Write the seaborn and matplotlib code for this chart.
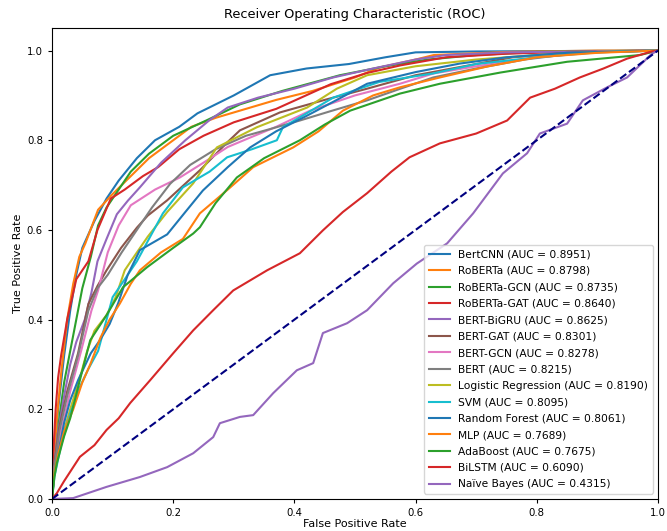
import numpy as np
import pandas as pd
import matplotlib
matplotlib.use("Agg")
import matplotlib.pyplot as plt
import seaborn as sns

models = ["BertCNN", "RoBERTa", "RoBERTa-GCN", "RoBERTa-GAT", "BERT-BiGRU", "BERT-GAT",
          "BERT-GCN", "BERT", "Logistic Regression", "SVM", "Random Forest", "MLP",
          "AdaBoost", "BiLSTM", "Naïve Bayes"]
aucs = [0.8951, 0.8798, 0.8735, 0.8640, 0.8625, 0.8301, 0.8278, 0.8215, 0.8190,
        0.8095, 0.8061, 0.7689, 0.7675, 0.6090, 0.4315]

bertcnn_fpr = [0, 0.003, 0.01, 0.02, 0.03, 0.04, 0.05, 0.07, 0.09, 0.11, 0.14, 0.17, 0.21, 0.24, 0.3, 0.36, 0.42, 0.49, 0.55, 0.6, 0.7, 1]
bertcnn_tpr = [0, 0.1, 0.2, 0.32, 0.42, 0.5, 0.56, 0.62, 0.67, 0.71, 0.76, 0.8, 0.83, 0.86, 0.9, 0.945, 0.96, 0.97, 0.985, 0.996, 0.998, 1]

roberta_fpr = [0, 0.003, 0.008, 0.015, 0.025, 0.035, 0.045, 0.055, 0.076, 0.1, 0.13, 0.16, 0.2, 0.23, 0.27, 0.31, 0.37, 0.43, 0.5, 0.54, 0.6, 0.63, 0.75, 0.9, 1]
roberta_tpr = [0, 0.08, 0.18, 0.28, 0.4, 0.48, 0.54, 0.57, 0.645, 0.68, 0.72, 0.76, 0.8, 0.83, 0.85, 0.866, 0.89, 0.91, 0.94, 0.962, 0.98, 0.99, 0.997, 1, 1]

rgcn_fpr = [0, 0.005, 0.012, 0.02, 0.03, 0.04, 0.05, 0.064, 0.076, 0.09, 0.11, 0.13, 0.16, 0.2, 0.256, 0.31, 0.38, 0.475, 0.55, 0.62, 0.7, 0.8, 1]
rgcn_tpr = [0, 0.08, 0.18, 0.26, 0.33, 0.4, 0.47, 0.54, 0.61, 0.65, 0.69, 0.73, 0.77, 0.81, 0.845, 0.88, 0.91, 0.945, 0.965, 0.98, 0.99, 0.997, 1]

rgat_fpr = [0, 0.002, 0.006, 0.01, 0.015, 0.025, 0.04, 0.06, 0.075, 0.097, 0.12, 0.15, 0.175, 0.21, 0.25, 0.3, 0.37, 0.46, 0.52, 0.575, 0.65, 0.75, 0.85, 1]
rgat_tpr = [0, 0.1, 0.2, 0.27, 0.32, 0.4, 0.49, 0.53, 0.6, 0.67, 0.69, 0.72, 0.74, 0.78, 0.81, 0.84, 0.87, 0.925, 0.95, 0.967, 0.985, 0.993, 0.997, 1]

bigru_fpr = [0, 0.003, 0.01, 0.02, 0.03, 0.04, 0.054, 0.065, 0.075, 0.09, 0.107, 0.125, 0.145, 0.18, 0.22, 0.26, 0.29, 0.34, 0.4, 0.464, 0.53, 0.6, 0.65, 0.75, 1]
bigru_tpr = [0, 0.07, 0.15, 0.23, 0.3, 0.35, 0.4, 0.46, 0.53, 0.58, 0.635, 0.665, 0.695, 0.75, 0.8, 0.845, 0.873, 0.895, 0.915, 0.94, 0.96, 0.98, 0.99, 0.996, 1]

bgat_fpr = [0, 0.004, 0.012, 0.025, 0.043, 0.06, 0.075, 0.09, 0.114, 0.14, 0.158, 0.19, 0.244, 0.289, 0.31, 0.376, 0.45, 0.52, 0.6, 0.68, 0.76, 0.85, 1]
bgat_tpr = [0, 0.08, 0.16, 0.24, 0.325, 0.435, 0.475, 0.51, 0.56, 0.605, 0.632, 0.666, 0.733, 0.795, 0.822, 0.862, 0.89, 0.915, 0.945, 0.965, 0.985, 0.995, 1]

bgcn_fpr = [0, 0.004, 0.015, 0.03, 0.048, 0.065, 0.076, 0.092, 0.11, 0.13, 0.17, 0.211, 0.25, 0.29, 0.327, 0.37, 0.426, 0.5, 0.574, 0.63, 0.7, 0.8, 0.9, 1]
bgcn_tpr = [0, 0.07, 0.15, 0.24, 0.33, 0.42, 0.465, 0.55, 0.61, 0.655, 0.69, 0.717, 0.75, 0.785, 0.806, 0.83, 0.866, 0.9, 0.926, 0.949, 0.965, 0.985, 0.997, 1]

bert_fpr = [0, 0.004, 0.012, 0.025, 0.043, 0.06, 0.075, 0.092, 0.115, 0.14, 0.165, 0.195, 0.228, 0.27, 0.32, 0.36, 0.409, 0.46, 0.52, 0.575, 0.629, 0.7, 0.78, 0.87, 1]
bert_tpr = [0, 0.07, 0.15, 0.23, 0.32, 0.42, 0.47, 0.5, 0.55, 0.6, 0.65, 0.703, 0.745, 0.78, 0.81, 0.825, 0.844, 0.865, 0.889, 0.915, 0.94, 0.96, 0.98, 0.995, 1]

lr_fpr = [0, 0.004, 0.015, 0.03, 0.048, 0.058, 0.07, 0.09, 0.105, 0.12, 0.13, 0.158, 0.19, 0.233, 0.272, 0.338, 0.421, 0.47, 0.52, 0.6, 0.7, 0.8, 0.9, 1]
lr_tpr = [0, 0.06, 0.13, 0.2, 0.28, 0.33, 0.375, 0.41, 0.45, 0.51, 0.53, 0.585, 0.64, 0.704, 0.784, 0.829, 0.873, 0.915, 0.945, 0.965, 0.98, 0.99, 0.997, 1]

svm_fpr = [0, 0.004, 0.015, 0.03, 0.046, 0.06, 0.076, 0.09, 0.1, 0.12, 0.14, 0.16, 0.183, 0.216, 0.26, 0.289, 0.33, 0.371, 0.381, 0.42, 0.464, 0.54, 0.629, 0.7, 0.8, 0.9, 1]
svm_tpr = [0, 0.05, 0.12, 0.19, 0.25, 0.29, 0.33, 0.4, 0.45, 0.49, 0.53, 0.58, 0.637, 0.695, 0.73, 0.762, 0.78, 0.8, 0.829, 0.86, 0.895, 0.93, 0.949, 0.97, 0.985, 0.996, 1]

rf_fpr = [0, 0.003, 0.01, 0.02, 0.03, 0.043, 0.064, 0.079, 0.095, 0.109, 0.125, 0.145, 0.19, 0.22, 0.249, 0.29, 0.327, 0.37, 0.421, 0.47, 0.52, 0.6, 0.673, 0.75, 0.85, 1]
rf_tpr = [0, 0.05, 0.1, 0.17, 0.22, 0.265, 0.325, 0.354, 0.39, 0.436, 0.5, 0.555, 0.59, 0.64, 0.688, 0.74, 0.784, 0.82, 0.855, 0.89, 0.926, 0.952, 0.971, 0.985, 0.995, 1]

mlp_fpr = [0, 0.003, 0.01, 0.02, 0.035, 0.05, 0.063, 0.08, 0.095, 0.112, 0.13, 0.145, 0.18, 0.216, 0.244, 0.29, 0.332, 0.398, 0.44, 0.48, 0.53, 0.574, 0.64, 0.72, 0.8, 0.9, 1]
mlp_tpr = [0, 0.05, 0.1, 0.15, 0.2, 0.26, 0.3, 0.36, 0.4, 0.436, 0.48, 0.51, 0.55, 0.58, 0.637, 0.69, 0.74, 0.784, 0.82, 0.866, 0.9, 0.918, 0.94, 0.965, 0.985, 0.995, 1]

ada_fpr = [0, 0.004, 0.008, 0.02, 0.03, 0.045, 0.063, 0.09, 0.117, 0.157, 0.2, 0.233, 0.244, 0.27, 0.305, 0.35, 0.409, 0.45, 0.492, 0.574, 0.64, 0.74, 0.85, 0.97, 1]
ada_tpr = [0, 0.05, 0.08, 0.14, 0.18, 0.26, 0.354, 0.41, 0.472, 0.517, 0.56, 0.592, 0.606, 0.66, 0.717, 0.76, 0.8, 0.835, 0.866, 0.904, 0.926, 0.951, 0.975, 0.99, 1]

bilstm_fpr = [0, 0.008, 0.02, 0.046, 0.07, 0.09, 0.11, 0.129, 0.162, 0.2, 0.233, 0.266, 0.299, 0.355, 0.409, 0.447, 0.48, 0.52, 0.56, 0.59, 0.64, 0.7, 0.751, 0.789, 0.83, 0.871, 0.91, 0.949, 0.99, 1]
bilstm_tpr = [0, 0.013, 0.04, 0.094, 0.12, 0.154, 0.18, 0.214, 0.265, 0.325, 0.376, 0.421, 0.465, 0.51, 0.548, 0.599, 0.64, 0.682, 0.73, 0.762, 0.793, 0.815, 0.844, 0.895, 0.915, 0.94, 0.96, 0.982, 0.998, 1]

nb_fpr = [0, 0.035, 0.09, 0.145, 0.19, 0.233, 0.266, 0.277, 0.31, 0.332, 0.365, 0.404, 0.431, 0.447, 0.487, 0.52, 0.563, 0.602, 0.652, 0.695, 0.744, 0.784, 0.805, 0.85, 0.876, 0.916, 0.949, 0.99, 1]
nb_tpr = [0, 0.002, 0.027, 0.049, 0.071, 0.102, 0.138, 0.169, 0.183, 0.187, 0.236, 0.287, 0.303, 0.37, 0.392, 0.421, 0.481, 0.525, 0.57, 0.637, 0.726, 0.771, 0.815, 0.837, 0.889, 0.918, 0.94, 0.993, 1]

curves = [(bertcnn_fpr, bertcnn_tpr), (roberta_fpr, roberta_tpr), (rgcn_fpr, rgcn_tpr),
          (rgat_fpr, rgat_tpr), (bigru_fpr, bigru_tpr), (bgat_fpr, bgat_tpr),
          (bgcn_fpr, bgcn_tpr), (bert_fpr, bert_tpr), (lr_fpr, lr_tpr), (svm_fpr, svm_tpr),
          (rf_fpr, rf_tpr), (mlp_fpr, mlp_tpr), (ada_fpr, ada_tpr),
          (bilstm_fpr, bilstm_tpr), (nb_fpr, nb_tpr)]

rows = []
labels = []
for name, auc, (fx, ty) in zip(models, aucs, curves):
    lab = f"{name} (AUC = {auc:.4f})"
    labels.append(lab)
    for a, b in zip(fx, ty):
        rows.append({"fpr": a, "tpr": b, "model": lab})
df = pd.DataFrame(rows)

tab = sns.color_palette("tab10")
palette = {lab: tab[i % 10] for i, lab in enumerate(labels)}

plt.rcParams["font.family"] = ["DejaVu Sans"]
fig = plt.figure(figsize=(6.67, 5.31), dpi=100)
ax = fig.add_axes([0.078, 0.0603, 0.9085, 0.8867])

sns.lineplot(data=df, x="fpr", y="tpr", hue="model", hue_order=labels, palette=palette,
             sort=False, estimator=None, lw=1.5, ax=ax)
ax.plot([0, 1], [0, 1], color="navy", lw=1.5, linestyle="--")

ax.set_xlim(0.0, 1.0)
ax.set_ylim(0.0, 1.05)
ax.set_xticks([0, 0.2, 0.4, 0.6, 0.8, 1.0])
ax.set_yticks([0, 0.2, 0.4, 0.6, 0.8, 1.0])
ax.set_xticklabels(["0.0", "0.2", "0.4", "0.6", "0.8", "1.0"])
ax.set_yticklabels(["0.0", "0.2", "0.4", "0.6", "0.8", "1.0"])
ax.tick_params(labelsize=7.3, length=3, width=0.8)
ax.set_xlabel("False Positive Rate", fontsize=8, labelpad=1)
ax.set_ylabel("True Positive Rate", fontsize=8, labelpad=3)
ax.set_title("Receiver Operating Characteristic (ROC)", fontsize=9.3, pad=7)
ax.legend(loc="lower right", fontsize=7.7, frameon=True, handlelength=2.0,
          labelspacing=0.6)

fig.savefig("out.png", dpi=100)
